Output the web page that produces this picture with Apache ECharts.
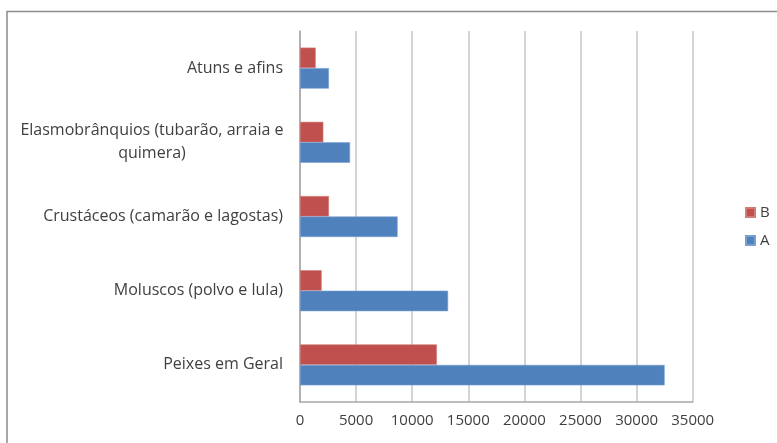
<!DOCTYPE html>
<html><head><meta charset="utf-8">
<script src="https://cdn.jsdelivr.net/npm/echarts@6/dist/echarts.min.js"></script>
<style>html,body{margin:0;padding:0;background:#fff}#c{width:777px;height:443px}</style>
</head><body><div id="c"></div>
<script>
const categories = ['Peixes em Geral', 'Moluscos (polvo e lula)', 'Crustáceos (camarão e lagostas)', 'Elasmobrânquios (tubarão, arraia e\nquimera)', 'Atuns e afins'];
const seriesA = [32500, 13200, 8700, 4460, 2580];
const seriesB = [12200, 1930, 2580, 2080, 1400];
const xTicks = { min: 0, max: 35000, interval: 5000 };

const chart = echarts.init(document.getElementById('c'), null, { renderer: 'canvas' });
const font = '"Open Sans", sans-serif';
chart.setOption({
  animation: false,
  textStyle: { fontFamily: font },
  graphic: [{
    type: 'rect', shape: { x: 7, y: 11.5, width: 800, height: 460 },
    style: { fill: 'none', stroke: '#8c8c8c', lineWidth: 1.5 }, silent: true
  }],
  grid: { left: 300, top: 31, width: 392.7, height: 371 },
  legend: {
    data: ['B', 'A'], orient: 'vertical', left: 740, top: 200,
    itemWidth: 9, itemHeight: 9, itemGap: 13, icon: 'rect',
    textStyle: { fontFamily: font, fontSize: 15, color: '#404040' }
  },
  xAxis: {
    type: 'value', min: xTicks.min, max: xTicks.max, interval: xTicks.interval,
    axisLine: { show: true, lineStyle: { color: '#a6a6a6', width: 1.5 } },
    axisTick: { show: false },
    splitLine: { show: true, lineStyle: { color: '#c6c6c6', width: 1.5 } },
    axisLabel: { color: '#404040', fontSize: 15, fontFamily: font, margin: 11, formatter: v => String(v) }
  },
  yAxis: {
    type: 'category', data: categories,
    axisLine: { show: true, lineStyle: { color: '#a6a6a6', width: 1.5 } },
    axisTick: { show: false },
    axisLabel: {
      color: '#404040', fontSize: 16, fontFamily: font, margin: 17, lineHeight: 23, align: 'right',
      formatter: v => v.indexOf('\n') >= 0 ? v.split('\n').map(s => '{c|' + s + '}').join('\n') : v,
      rich: { c: { width: 262, align: 'center', fontSize: 16, fontFamily: font, color: '#404040', lineHeight: 23 } }
    }
  },
  series: [
    { name: 'B', type: 'bar', data: seriesB, barWidth: 20.5, barGap: '0%', barCategoryGap: '44%',
      itemStyle: { color: '#C0504D', borderColor: '#d07c79', borderWidth: 0.6 } },
    { name: 'A', type: 'bar', data: seriesA, barWidth: 20.5, barGap: '0%',
      itemStyle: { color: '#4F81BD', borderColor: '#7aa0d0', borderWidth: 0.6 } }
  ]
});
</script></body></html>
